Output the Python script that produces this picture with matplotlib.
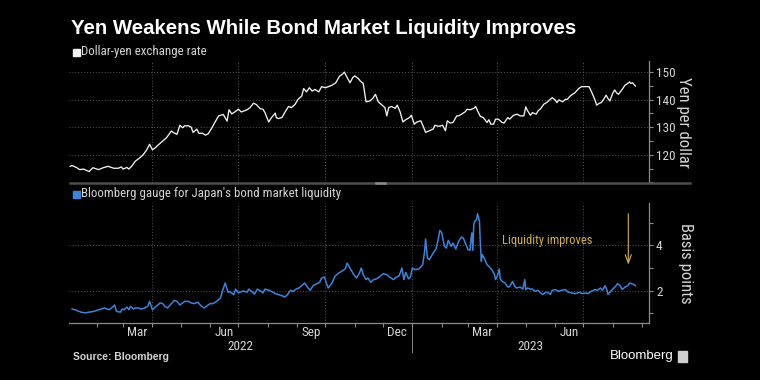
import matplotlib
matplotlib.use('Agg')
import matplotlib.pyplot as plt
import matplotlib.dates as mdates
from matplotlib import font_manager
from matplotlib.ticker import FixedLocator
from matplotlib.transforms import blended_transform_factory
from matplotlib.patches import Rectangle
from matplotlib.lines import Line2D
import pandas as pd

available = {f.name for f in font_manager.fontManager.ttflist}
def pick(*names):
    for n in names:
        if n in available:
            return n
    return 'DejaVu Sans'
NARROW = pick('Liberation Sans Narrow', 'Roboto Condensed', 'Liberation Sans', 'DejaVu Sans')
SANS = pick('Liberation Sans', 'DejaVu Sans')

# ---------------- data ----------------
START = pd.Timestamp('2022-01-01')

fx_days = [3, 5, 10, 13, 17, 23, 27, 33, 38, 43, 49, 54, 57, 59, 63, 65, 68, 72, 76, 80,
           84, 87, 90, 93, 96, 101, 105, 110, 112, 116, 119, 122, 124, 128, 131, 133, 137, 139, 143, 146,
           149, 153, 156, 160, 165, 169, 171, 174, 177, 181, 184, 190, 193, 197, 200, 204, 207, 209, 213, 216,
           220, 221, 223, 227, 230, 234, 237, 241, 244, 248, 250, 253, 256, 259, 262, 266, 269, 273, 276, 280,
           284, 288, 291, 293, 296, 299, 302, 304, 308, 310, 313, 315, 316, 320, 323, 326, 329, 333, 336, 338,
           340, 343, 347, 349, 352, 355, 358, 362, 364, 367, 370, 374, 377, 379, 383, 387, 389, 393, 397, 400,
           402, 405, 408, 412, 414, 417, 421, 423, 426, 430, 432, 434, 437, 440, 444, 446, 448, 451, 453, 456,
           460, 462, 466, 468, 472, 476, 479, 483, 485, 487, 490, 492, 496, 498, 501, 504, 507, 511, 513, 516,
           518, 520, 524, 527, 529, 532, 534, 537, 541, 544, 550, 552, 555, 558, 560, 563, 565, 568, 570, 572,
           574, 577, 579, 581, 583, 587, 590, 593, 595, 596, 598, 601]
fx_values = [115.8, 116.1, 115.3, 114.6, 114.8, 113.9, 115.3, 114.6, 115.3, 115.8, 115.1, 115.1, 115.6, 114.8, 115.4, 114.8, 115.8, 117.7, 118.7, 119.9,
             121.8, 123.8, 121.8, 122.5, 123.5, 125.0, 126.2, 128.6, 128.1, 127.4, 130.7, 129.8, 130.5, 130.5, 130.0, 128.1, 129.3, 127.8, 127.8, 127.1,
             127.6, 129.8, 131.7, 134.1, 134.6, 132.2, 136.3, 134.8, 135.5, 136.5, 135.5, 136.3, 137.0, 138.7, 138.2, 136.7, 136.5, 135.3, 131.9, 133.5,
             135.1, 133.5, 133.1, 133.5, 135.3, 137.5, 137.1, 138.3, 140.1, 141.3, 144.0, 142.8, 144.3, 143.1, 143.7, 142.8, 144.7, 144.3, 144.7, 145.2,
             146.1, 148.5, 149.2, 150.0, 148.0, 146.1, 148.0, 148.6, 147.6, 146.7, 145.9, 141.6, 139.2, 139.5, 140.4, 141.9, 139.2, 138.0, 137.1, 134.1,
             137.1, 137.5, 136.8, 138.0, 135.6, 131.9, 132.7, 133.5, 134.3, 131.1, 131.9, 132.3, 129.9, 128.1, 128.7, 129.3, 130.7, 130.3, 130.7, 128.7,
             132.3, 131.5, 131.7, 134.1, 134.1, 134.7, 135.6, 136.5, 136.3, 136.8, 137.5, 135.9, 133.9, 133.5, 131.7, 132.7, 131.1, 131.1, 132.9, 132.9,
             131.7, 131.5, 133.5, 132.9, 134.3, 134.7, 134.1, 134.1, 137.4, 135.9, 134.3, 135.3, 134.7, 135.9, 136.8, 138.3, 138.9, 140.1, 140.7, 139.9,
             138.9, 139.9, 139.2, 140.1, 140.1, 141.3, 141.8, 142.5, 144.0, 144.7, 144.7, 144.7, 142.5, 140.1, 138.0, 138.7, 138.9, 140.4, 141.6, 140.4,
             139.5, 142.3, 143.5, 142.5, 141.9, 143.7, 145.2, 145.9, 146.4, 145.9, 146.1, 144.9]

liq_days = [5, 8, 12, 15, 19, 22, 26, 29, 33, 36, 39, 42, 44, 47, 50, 52, 56, 58, 60, 63,
            65, 67, 70, 72, 75, 78, 81, 85, 87, 90, 93, 96, 98, 101, 103, 106, 110, 113, 116, 119,
            122, 124, 128, 131, 134, 138, 142, 145, 148, 151, 154, 158, 162, 164, 167, 170, 172, 176, 178, 181,
            184, 186, 190, 192, 195, 198, 201, 204, 207, 209, 213, 216, 220, 223, 227, 230, 233, 236, 239, 242,
            245, 248, 251, 254, 257, 260, 264, 267, 269, 272, 274, 276, 280, 283, 287, 290, 294, 296, 299, 303,
            306, 309, 311, 313, 316, 318, 321, 324, 327, 331, 334, 338, 341, 345, 348, 351, 354, 356, 358, 361,
            363, 365, 368, 372, 376, 378, 379, 381, 383, 387, 390, 393, 394, 396, 399, 401, 403, 406, 408, 411,
            412, 414, 417, 419, 421, 424, 426, 427, 428, 429, 430, 431, 433, 434, 436, 437, 438, 439, 441, 444,
            446, 449, 452, 453, 455, 457, 458, 460, 463, 466, 468, 471, 473, 475, 479, 482, 484, 485, 487, 490,
            492, 495, 498, 500, 503, 505, 508, 511, 513, 516, 520, 523, 527, 530, 534, 537, 540, 542, 545, 548,
            551, 554, 557, 558, 561, 564, 566, 569, 571, 572, 574, 577, 580, 582, 585, 587, 590, 593, 595, 597,
            599, 601]
liq_values = [1.19, 1.16, 1.09, 1.05, 1.02, 1.05, 1.07, 1.10, 1.16, 1.19, 1.24, 1.19, 1.16, 1.24, 1.37, 1.09, 1.05, 1.19, 1.16, 1.28,
              1.16, 1.31, 1.19, 1.24, 1.24, 1.19, 1.22, 1.31, 1.53, 1.16, 1.28, 1.38, 1.46, 1.43, 1.31, 1.24, 1.43, 1.57, 1.53, 1.37,
              1.46, 1.53, 1.53, 1.46, 1.43, 1.49, 1.31, 1.24, 1.34, 1.43, 1.43, 1.53, 1.68, 1.97, 2.34, 1.93, 1.96, 1.82, 2.07, 1.90,
              1.96, 1.99, 1.93, 2.07, 1.97, 1.85, 2.07, 2.00, 1.90, 2.07, 2.02, 1.97, 1.87, 1.83, 1.78, 1.72, 1.83, 2.02, 1.97, 2.07,
              2.12, 2.22, 2.34, 2.16, 2.02, 2.22, 2.31, 2.37, 2.56, 2.60, 2.34, 2.12, 2.34, 2.63, 2.78, 2.85, 2.96, 3.22, 3.00, 2.71,
              2.56, 2.78, 3.00, 2.71, 2.49, 2.56, 2.37, 2.49, 2.52, 2.63, 2.75, 2.71, 2.60, 2.49, 2.60, 2.66, 3.00, 2.49, 2.81, 2.52,
              2.60, 3.00, 2.93, 2.96, 3.15, 3.74, 4.28, 3.44, 3.37, 3.66, 3.84, 4.40, 4.66, 4.57, 3.96, 3.88, 4.22, 3.96, 4.10, 3.84,
              3.96, 4.18, 4.37, 4.32, 4.10, 3.81, 3.78, 4.28, 4.55, 3.78, 4.91, 5.06, 5.13, 5.40, 5.06, 4.03, 3.30, 3.59, 3.44, 3.15,
              3.07, 2.93, 2.71, 2.49, 2.66, 2.96, 2.52, 2.41, 2.34, 2.16, 2.19, 2.41, 2.22, 2.12, 2.16, 2.07, 2.49, 2.05, 2.12, 2.07,
              2.07, 1.97, 2.02, 1.93, 1.83, 1.90, 1.93, 1.83, 2.02, 2.05, 1.97, 2.02, 2.05, 1.93, 1.90, 1.87, 1.90, 1.93, 1.87, 1.90,
              1.87, 1.97, 2.02, 2.05, 2.02, 2.12, 2.02, 2.22, 2.02, 1.83, 1.93, 2.07, 2.19, 2.31, 2.22, 2.05, 2.16, 2.22, 2.34, 2.31,
              2.28, 2.22]

fx_label = 'Dollar-yen exchange rate'
liq_label = "Bloomberg gauge for Japan's bond market liquidity"
title = 'Yen Weakens While Bond Market Liquidity Improves'
fx_major = [120, 130, 140, 150]
fx_minor = [110, 115, 125, 135, 145]
liq_major = [2, 4]
liq_minor = [1, 3, 5]
month_labels = ['2022-03-16', '2022-06-16', '2022-09-16', '2022-12-16', '2023-03-16', '2023-06-16']
grid_dates = ['2022-04-01', '2022-07-01', '2022-10-01', '2023-01-01', '2023-04-01', '2023-07-01']
annot_text = 'Liquidity improves'
annot_day, annot_val = 460, 4.22
arrow_day, arrow_top, arrow_tip = 593.5, 5.40, 3.15

fx_dates = START + pd.to_timedelta(fx_days, unit='D')
liq_dates = START + pd.to_timedelta(liq_days, unit='D')

# ---------------- style ----------------
BG = 'black'
WHITE = '#f2f2f2'
BLUE = '#3f82d8'
GOLD = '#d2b04a'
GRID = '#585858'
SPINE = '#8c8c8c'
TXT = '#d6d6d6'

W, H = 760, 380
fig = plt.figure(figsize=(W / 100, H / 100), dpi=100, facecolor=BG)

def rect(x0, y0, x1, y1):
    return [x0 / W, 1 - y1 / H, (x1 - x0) / W, (y1 - y0) / H]

ax1 = fig.add_axes(rect(68.6, 61, 649, 183))
ax2 = fig.add_axes(rect(68.6, 203, 649, 323))

xmin = START + pd.Timedelta(days=1.3)
xmax = START + pd.Timedelta(days=615.4)

for ax in (ax1, ax2):
    ax.set_facecolor(BG)
    ax.set_xlim(xmin, xmax)
    for s in ('left', 'top'):
        ax.spines[s].set_visible(False)
    ax.spines['right'].set_color(SPINE)
    ax.spines['right'].set_linewidth(0.9)
    ax.yaxis.tick_right()
    ax.yaxis.set_label_position('right')
    ax.tick_params(axis='y', which='both', direction='out', colors=SPINE, labelcolor=TXT,
                   labelsize=9.5, pad=2, width=0.8)
    ax.tick_params(axis='y', which='major', length=3)
    ax.tick_params(axis='y', which='minor', length=3)
    for lab in ax.get_yticklabels():
        lab.set_fontfamily(NARROW)
    for gd in grid_dates:
        ax.axvline(pd.Timestamp(gd), color=GRID, lw=0.7, ls=(0, (1, 2)), zorder=0)

# top panel
ax1.plot(fx_dates, fx_values, color=WHITE, lw=0.95, zorder=3)
ax1.set_ylim(109.75, 154)
ax1.set_yticks(fx_major)
ax1.set_yticks(fx_minor, minor=True)
for v in fx_major:
    ax1.axhline(v, color=GRID, lw=0.7, ls=(0, (1, 2)), zorder=0)
ax1.spines['bottom'].set_visible(False)
ax1.tick_params(axis='x', which='both', bottom=False, labelbottom=False)
ax1.set_ylabel('Yen per dollar', rotation=270, color=TXT, fontsize=12, fontfamily=NARROW, labelpad=11)

# bottom panel
ax2.plot(liq_dates, liq_values, color=BLUE, lw=1.1, zorder=3)
ax2.set_ylim(0.575, 5.87)
ax2.set_yticks(liq_major)
ax2.set_yticks(liq_minor, minor=True)
for v in liq_major:
    ax2.axhline(v, color=GRID, lw=0.7, ls=(0, (1, 2)), zorder=0)
ax2.spines['bottom'].set_color(SPINE)
ax2.spines['bottom'].set_linewidth(0.9)
ax2.set_ylabel('Basis points', rotation=270, color=TXT, fontsize=12, fontfamily=NARROW, labelpad=22)

ax2.xaxis.set_major_locator(mdates.MonthLocator())
ax2.xaxis.set_major_formatter(plt.NullFormatter())
ax2.xaxis.set_minor_locator(FixedLocator(mdates.date2num(pd.to_datetime(month_labels))))
ax2.xaxis.set_minor_formatter(mdates.DateFormatter('%b'))
ax2.tick_params(axis='x', which='major', length=3, direction='out', colors=SPINE, width=0.8)
ax2.tick_params(axis='x', which='minor', length=0, pad=2, labelcolor=TXT, labelsize=9.5)
for lab in ax2.get_xticklabels(minor=True):
    lab.set_fontfamily(NARROW)

# years
bt = blended_transform_factory(ax2.transData, fig.transFigure)
mid22 = START + (pd.Timestamp('2023-01-01') - xmin) / 2 + pd.Timedelta(days=1.3)
mid23 = pd.Timestamp('2023-01-01') + (xmax - pd.Timestamp('2023-01-01')) / 2
fig.text(mdates.date2num(mid22), 1 - 346 / H, '2022', transform=bt, ha='center', va='center',
         color=TXT, fontsize=9.5, fontfamily=NARROW)
fig.text(mdates.date2num(mid23), 1 - 346 / H, '2023', transform=bt, ha='center', va='center',
         color=TXT, fontsize=9.5, fontfamily=NARROW)
sep_x = mdates.date2num(pd.Timestamp('2023-01-01'))
fig.add_artist(Line2D([sep_x, sep_x], [1 - 325 / H, 1 - 352 / H], transform=bt, color=SPINE, lw=0.7))

# separator between panels
fig.add_artist(Line2D([70 / W, 690 / W], [1 - 183 / H, 1 - 183 / H], color='#4e4e4e', lw=1.8))
fig.add_artist(Line2D([376 / W, 385 / W], [1 - 183 / H, 1 - 183 / H], color='#8a8a8a', lw=1.8))

# annotation
ax2.text(START + pd.Timedelta(days=annot_day), annot_val, annot_text, color=GOLD, fontsize=9,
         fontfamily=NARROW, ha='left', va='center')
ax2.annotate('', xy=(START + pd.Timedelta(days=arrow_day), arrow_tip),
             xytext=(START + pd.Timedelta(days=arrow_day), arrow_top),
             arrowprops=dict(arrowstyle='->,head_length=0.6,head_width=0.22', color=GOLD, lw=0.8,
                             shrinkA=0, shrinkB=0))

# title and legend labels
fig.text(71 / W, 1 - 28 / H, title, color='white', fontsize=14.7, fontweight='bold',
         fontfamily=SANS, ha='left', va='center')
fig.add_artist(Rectangle((73 / W, 1 - 55.5 / H), 6.5 / W, 6.5 / H, color=WHITE, transform=fig.transFigure))
fig.text(81 / W, 1 - 52 / H, fx_label, color=TXT, fontsize=9.3, fontfamily=NARROW, ha='left', va='center')
fig.add_artist(Rectangle((73 / W, 1 - 197.5 / H), 6.5 / W, 6.5 / H, color=BLUE, transform=fig.transFigure))
fig.text(81 / W, 1 - 194 / H, liq_label, color=TXT, fontsize=9.3, fontfamily=NARROW, ha='left', va='center')

# footer
fig.text(73 / W, 1 - 357 / H, 'Source: Bloomberg', color=TXT, fontsize=7.4, fontweight='bold',
         fontfamily=SANS, ha='left', va='center')
fig.text(674 / W, 1 - 356 / H, 'Bloomberg', color='white', fontsize=9.5, fontfamily=SANS,
         ha='right', va='center')
fig.add_artist(Rectangle((678 / W, 1 - 362 / H), 9 / W, 11 / H, color='#cfcfcf', transform=fig.transFigure))

fig.savefig('out.png', dpi=100, facecolor=BG)
